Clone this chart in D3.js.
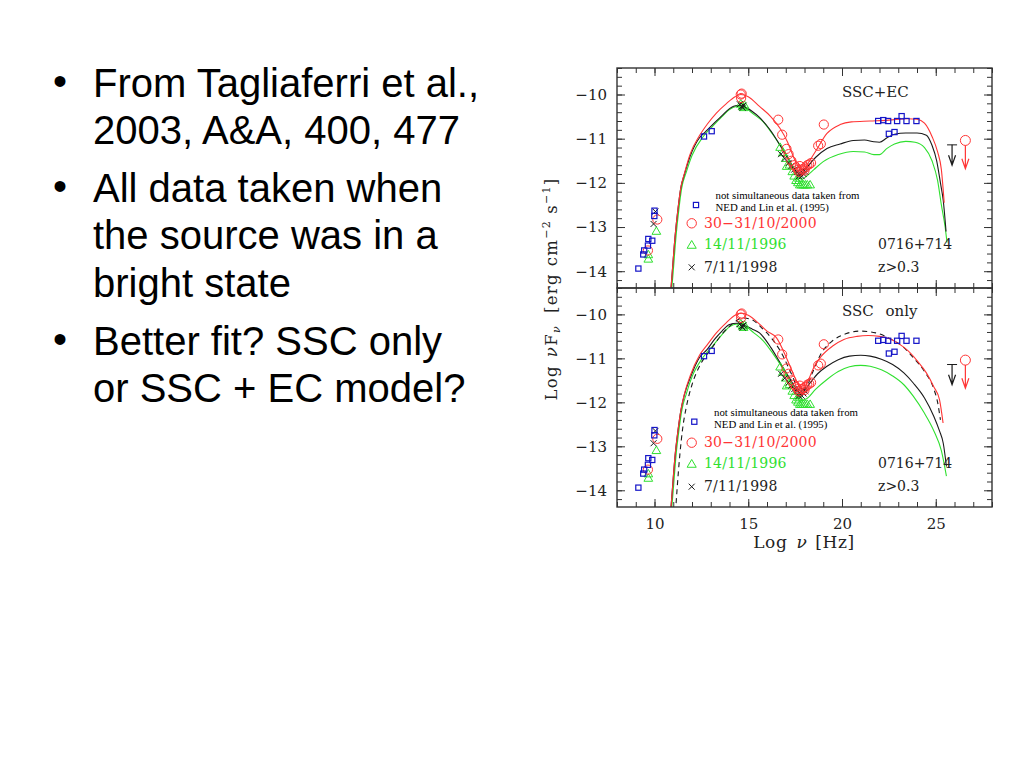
<!DOCTYPE html>
<html><head><meta charset="utf-8">
<script src="https://cdn.jsdelivr.net/npm/d3@7"></script>
<style>body{margin:0;background:#fff;} svg{display:block}</style>
</head><body>
<svg id="c" width="1024" height="768"></svg>
<script>
// ---------- slide text ----------
const bullets = [
  ["From Tagliaferri et al.,", "2003, A&A, 400, 477"],
  ["All data taken when", "the source was in a", "bright state"],
  ["Better fit? SSC only", "or SSC + EC model?"]
];

// ---------- axis ticks ----------
const xMajorTicks = [10, 15, 20, 25];
const yMajorTicks = [-14, -13, -12, -11, -10];

// ---------- data points (log nu, log nuFnu) ----------
const nedX = [9.14, 9.4, 9.45, 9.65, 9.67, 9.88, 9.99, 10.0, 12.64, 13.05, 21.93, 22.2, 22.46, 22.94, 23.18, 23.44, 23.97, 22.5, 22.8];
const nedY = [-13.94, -13.62, -13.53, -13.42, -13.27, -13.31, -12.75, -12.63, -10.95, -10.83, -10.6, -10.58, -10.6, -10.6, -10.49, -10.6, -10.6, -10.89, -10.85];

const obs2000X = [9.65, 10.15, 14.6, 14.62, 14.65, 16.6, 16.81, 17.04, 17.15, 17.3, 17.45, 17.55, 17.65, 17.75, 17.85, 17.95, 18.05, 18.15, 18.25, 18.35, 17.7, 18.0, 18.73, 18.87, 19.03];
const obs2000Y = [-13.53, -12.83, -10.0, -10.08, -9.98, -10.57, -10.91, -11.23, -11.35, -11.5, -11.6, -11.65, -11.7, -11.62, -11.7, -11.68, -11.65, -11.6, -11.58, -11.55, -11.75, -11.72, -11.16, -11.12, -10.68];

const obs1996X = [9.67, 9.67, 10.1, 14.6, 14.7, 14.8, 14.75, 16.7, 16.85, 17.0, 17.05, 17.2, 17.35, 17.45, 17.55, 17.65, 17.75, 17.85, 17.95, 18.05, 18.15, 18.3, 17.7];
const obs1996Y = [-13.63, -13.73, -13.1, -10.22, -10.27, -10.25, -10.3, -11.2, -11.32, -11.45, -11.63, -11.6, -11.75, -11.85, -11.95, -12.0, -12.05, -12.05, -12.05, -12.05, -12.05, -12.05, -11.9];

const obs1998X = [9.95, 10.05, 14.55, 14.65, 14.7, 14.75, 16.75, 16.95, 17.15, 17.3, 17.45, 17.6, 17.75, 17.85, 17.95, 18.05, 17.7, 17.9];
const obs1998Y = [-12.93, -12.65, -10.22, -10.27, -10.3, -10.25, -11.35, -11.45, -11.55, -11.62, -11.7, -11.75, -11.78, -11.85, -11.8, -11.75, -11.85, -11.72];

// upper limits [x, yTop, yTip]
const limit1998 = [25.87, -11.14, -11.6];
const limit2000 = [26.58, -11.04, -11.68];

// ---------- model curves ----------
const sscEcBlack = [[10.86,-14.5],[10.95,-14.0],[11.1,-13.2],[11.25,-12.6],[11.4,-12.12],[11.6,-11.8],[11.9,-11.4],[12.4,-10.98],[12.7,-10.85],[13.1,-10.68],[13.6,-10.48],[14.0,-10.32],[14.4,-10.25],[14.8,-10.28],[15.2,-10.38],[15.6,-10.52],[16.2,-10.82],[16.7,-11.15],[17.2,-11.5],[17.6,-11.76],[17.8,-11.82],[18.0,-11.72],[18.6,-11.42],[19.2,-11.22],[19.9,-11.12],[20.6,-11.04],[21.2,-11.03],[21.7,-11.07],[22.0,-11.08],[22.4,-10.98],[22.8,-10.9],[23.4,-10.87],[24.0,-10.87],[24.5,-10.92],[24.8,-11.15],[25.05,-11.5],[25.25,-12.0],[25.4,-12.4],[25.55,-13.1]];
const sscEcRed = [[10.86,-14.5],[10.95,-14.0],[11.1,-13.2],[11.25,-12.6],[11.4,-12.12],[11.6,-11.78],[11.9,-11.35],[12.4,-10.93],[12.8,-10.68],[13.3,-10.42],[13.85,-10.2],[14.3,-10.05],[14.6,-10.0],[15.0,-10.05],[15.6,-10.27],[16.2,-10.5],[16.7,-10.77],[17.1,-11.08],[17.4,-11.4],[17.7,-11.65],[17.95,-11.72],[18.2,-11.55],[18.6,-11.28],[19.2,-10.88],[19.9,-10.68],[20.5,-10.62],[21.5,-10.6],[22.5,-10.58],[23.5,-10.55],[24.0,-10.56],[24.4,-10.65],[24.8,-10.95],[25.1,-11.3],[25.3,-11.7],[25.45,-12.45]];
const sscEcGreen = [[10.9,-14.5],[11.0,-14.0],[11.15,-13.2],[11.3,-12.6],[11.45,-12.12],[11.7,-11.75],[12.0,-11.38],[12.6,-10.95],[13.1,-10.72],[13.6,-10.5],[14.0,-10.34],[14.4,-10.27],[14.8,-10.3],[15.3,-10.45],[15.8,-10.62],[16.3,-10.9],[16.8,-11.22],[17.3,-11.58],[17.65,-11.85],[17.85,-11.92],[18.1,-11.85],[18.5,-11.7],[19.0,-11.52],[19.8,-11.36],[20.6,-11.29],[21.2,-11.3],[21.7,-11.36],[22.0,-11.36],[22.4,-11.22],[22.8,-11.12],[23.4,-11.06],[23.9,-11.08],[24.4,-11.2],[24.8,-11.5],[25.1,-11.95],[25.3,-12.5],[25.5,-13.0],[25.6,-13.35]];

const sscBlack = [[10.86,-14.5],[10.95,-14.0],[11.1,-13.2],[11.25,-12.65],[11.4,-12.2],[11.6,-11.82],[11.9,-11.45],[12.4,-10.98],[12.8,-10.8],[13.2,-10.57],[13.6,-10.38],[14.0,-10.23],[14.4,-10.2],[14.8,-10.25],[15.2,-10.33],[15.6,-10.42],[16.2,-10.75],[16.7,-11.1],[17.2,-11.45],[17.6,-11.72],[17.8,-11.8],[18.0,-11.72],[18.3,-11.56],[18.7,-11.35],[19.2,-11.18],[19.8,-11.03],[20.4,-10.95],[21.0,-10.93],[21.5,-10.95],[22.1,-11.02],[22.7,-11.14],[23.3,-11.33],[23.8,-11.56],[24.4,-11.9],[24.9,-12.32],[25.2,-12.65],[25.4,-12.93],[25.57,-13.46]];
const sscRed = [[10.86,-14.5],[10.95,-14.0],[11.1,-13.2],[11.25,-12.65],[11.4,-12.2],[11.6,-11.8],[11.9,-11.4],[12.4,-10.93],[12.8,-10.7],[13.3,-10.42],[13.85,-10.18],[14.3,-10.02],[14.6,-9.97],[15.0,-10.02],[15.6,-10.22],[16.0,-10.38],[16.5,-10.53],[17.0,-10.95],[17.4,-11.35],[17.7,-11.62],[17.93,-11.7],[18.2,-11.5],[18.5,-11.2],[18.9,-10.95],[19.5,-10.72],[20.1,-10.57],[20.8,-10.5],[21.4,-10.48],[22.0,-10.5],[22.5,-10.55],[23.0,-10.66],[23.5,-10.82],[24.0,-11.05],[24.5,-11.33],[24.9,-11.65],[25.2,-11.94],[25.39,-12.47]];
const sscDashed = [[11.12,-14.5],[11.2,-14.0],[11.35,-13.2],[11.5,-12.6],[11.7,-12.1],[12.0,-11.6],[12.5,-11.1],[13.0,-10.8],[13.6,-10.45],[14.2,-10.2],[14.7,-10.08],[15.2,-10.12],[15.7,-10.3],[16.2,-10.52],[16.8,-10.9],[17.3,-11.35],[17.75,-11.72],[18.0,-11.72],[18.4,-11.35],[18.9,-10.88],[19.5,-10.6],[20.2,-10.44],[21.0,-10.38],[21.8,-10.42],[22.6,-10.56],[23.2,-10.72],[23.8,-10.98],[24.4,-11.3],[24.9,-11.7],[25.1,-12.0],[25.25,-12.4]];
const sscGreen = [[10.9,-14.5],[11.0,-14.0],[11.15,-13.2],[11.3,-12.65],[11.45,-12.2],[11.7,-11.8],[12.0,-11.42],[12.6,-10.97],[13.1,-10.72],[13.6,-10.46],[14.0,-10.28],[14.4,-10.22],[14.8,-10.26],[15.3,-10.42],[15.8,-10.6],[16.3,-10.88],[16.8,-11.2],[17.3,-11.58],[17.65,-11.87],[17.9,-11.95],[18.11,-11.92],[18.6,-11.7],[19.2,-11.48],[19.8,-11.3],[20.4,-11.19],[21.0,-11.16],[21.5,-11.18],[22.1,-11.26],[22.7,-11.4],[23.3,-11.6],[23.8,-11.86],[24.4,-12.25],[24.9,-12.65],[25.3,-13.1],[25.57,-13.68]];

// legend texts
const legendNote = ["not simultaneous data taken from", "NED and Lin et al. (1995)"];
const legendDates = ["30\u221231/10/2000", "14/11/1996", "7/11/1998"];
const sourceLabels = ["0716+714", "z>0.3"];
const panelTitles = ["SSC+EC", "SSC only"];

// ---------- drawing ----------
const RED = "#ff3535", GREEN = "#2fe02f", BLUE = "#1515c8", BLACK = "#1a1a1a";
const SERIF = "'DejaVu Serif', serif";
const svg = d3.select("#c");

// bullets
const bg = svg.append("g").attr("font-family", "'Liberation Sans', Arial, sans-serif").attr("font-size", 40).attr("fill", "#000");
let yb = 97;
bullets.forEach(lines => {
  bg.append("text").attr("x", 53).attr("y", yb - 2).text("\u2022");
  lines.forEach((l, j) => bg.append("text").attr("x", 93).attr("y", yb + j * 47.3).text(l));
  yb += lines.length * 47.3 + 10.5;
});

const x = d3.scaleLinear().domain([8, 28]).range([617, 992]);
const xMinor = d3.range(8, 29, 1);
const yMinor = d3.range(-14.2, -9.39, 0.2).map(v => +v.toFixed(1));

function triPath(s) { return `M0,${-s}L${s * 0.95},${s * 0.62}L${-s * 0.95},${s * 0.62}Z`; }

function drawPanel(top, bottom, idx, curves, legendY) {
  const y = d3.scaleLinear().domain([-14.38, -9.4]).range([bottom, top]);
  const g = svg.append("g");
  const clipId = "clip" + idx;
  svg.append("clipPath").attr("id", clipId).append("rect")
    .attr("x", 617).attr("y", top).attr("width", 375).attr("height", bottom - top);

  // axes (ticks inward)
  const axStyle = sel => {
    sel.select(".domain").remove();
    sel.selectAll("line").attr("stroke", "#333").attr("stroke-width", 1);
    sel.selectAll("text").attr("font-family", SERIF).attr("font-size", 15).attr("fill", "#222");
  };
  const fmt = d3.format("d");
  g.append("g").attr("transform", `translate(617,0)`)
    .call(d3.axisLeft(y).tickValues(yMajorTicks).tickSize(-8).tickPadding(10).tickFormat(fmt)).call(axStyle);
  g.append("g").attr("transform", `translate(617,0)`)
    .call(d3.axisLeft(y).tickValues(yMinor).tickSize(-5).tickFormat("")).call(axStyle);
  g.append("g").attr("transform", `translate(992,0)`)
    .call(d3.axisRight(y).tickValues(yMajorTicks).tickSize(-8).tickFormat("")).call(axStyle);
  g.append("g").attr("transform", `translate(992,0)`)
    .call(d3.axisRight(y).tickValues(yMinor).tickSize(-5).tickFormat("")).call(axStyle);
  g.append("g").attr("transform", `translate(0,${top})`)
    .call(d3.axisTop(x).tickValues(xMajorTicks).tickSize(-8).tickFormat("")).call(axStyle);
  g.append("g").attr("transform", `translate(0,${top})`)
    .call(d3.axisTop(x).tickValues(xMinor).tickSize(-5).tickFormat("")).call(axStyle);
  const bx = g.append("g").attr("transform", `translate(0,${bottom})`);
  bx.call(d3.axisBottom(x).tickValues(xMajorTicks).tickSize(-8).tickPadding(11).tickFormat(fmt)).call(axStyle);
  if (idx === 0) bx.selectAll("text").remove();
  g.append("g").attr("transform", `translate(0,${bottom})`)
    .call(d3.axisBottom(x).tickValues(xMinor).tickSize(-5).tickFormat("")).call(axStyle);

  // curves
  const line = d3.line().x(d => x(d[0])).y(d => y(d[1])).curve(d3.curveMonotoneX);
  const cg = g.append("g").attr("clip-path", `url(#${clipId})`);
  curves.forEach(c => {
    cg.append("path").attr("d", line(c.data)).attr("fill", "none")
      .attr("stroke", c.color).attr("stroke-width", 1.1)
      .attr("stroke-dasharray", c.dash || null);
  });

  // points
  const pg = g.append("g").attr("clip-path", `url(#${clipId})`).attr("fill", "none").attr("stroke-width", 1);
  obs1996X.forEach((v, i) => pg.append("path").attr("d", triPath(4.6))
    .attr("transform", `translate(${x(v)},${y(obs1996Y[i])})`).attr("stroke", GREEN));
  obs1998X.forEach((v, i) => pg.append("path").attr("d", "M-3,-3L3,3M-3,3L3,-3")
    .attr("transform", `translate(${x(v)},${y(obs1998Y[i])})`).attr("stroke", BLACK));
  obs2000X.forEach((v, i) => pg.append("circle").attr("cx", x(v)).attr("cy", y(obs2000Y[i])).attr("r", 4.6).attr("stroke", RED));
  nedX.forEach((v, i) => pg.append("rect").attr("x", x(v) - 2.6).attr("y", y(nedY[i]) - 2.6)
    .attr("width", 5.2).attr("height", 5.2).attr("stroke", BLUE).attr("stroke-width", 1.2));

  // upper limits
  const arrow = (xx, y1, y2, col) => {
    pg.append("path").attr("d", `M${xx},${y1}L${xx},${y2}M${xx - 3.5},${y2 - 10}L${xx},${y2}L${xx + 3.5},${y2 - 10}`)
      .attr("stroke", col).attr("stroke-width", 1.2);
  };
  const lx = x(limit1998[0]);
  pg.append("path").attr("d", `M${lx - 5},${y(limit1998[1])}L${lx + 5},${y(limit1998[1])}`).attr("stroke", BLACK);
  arrow(lx, y(limit1998[1]), y(limit1998[2]), BLACK);
  const rx = x(limit2000[0]);
  pg.append("circle").attr("cx", rx).attr("cy", y(limit2000[1])).attr("r", 5).attr("stroke", RED);
  arrow(rx, y(limit2000[1]) + 5, y(limit2000[2]), RED);

  // title
  g.append("text").attr("x", 842).attr("y", top + (idx === 0 ? 28.5 : 28)).attr("font-family", SERIF)
    .attr("font-size", 15).attr("fill", "#222").attr("word-spacing", idx === 0 ? 0 : 7).text(panelTitles[idx]);

  // legend
  const L = legendY;
  g.append("rect").attr("x", L.sq[0] - 2.6).attr("y", L.sq[1] - 2.6).attr("width", 5.2).attr("height", 5.2)
    .attr("fill", "none").attr("stroke", BLUE).attr("stroke-width", 1.2);
  legendNote.forEach((t, i) => g.append("text").attr("x", L.noteX).attr("y", L.note[i])
    .attr("font-family", "'Liberation Serif', 'Times New Roman', serif").attr("font-size", 10.8).attr("fill", "#000").text(t));
  g.append("circle").attr("cx", 691.7).attr("cy", L.sym[0]).attr("r", 4.7).attr("fill", "none").attr("stroke", RED);
  g.append("path").attr("d", triPath(4.8)).attr("transform", `translate(691.7,${L.sym[1] + 1})`).attr("fill", "none").attr("stroke", GREEN);
  g.append("path").attr("d", "M-3,-3L3,3M-3,3L3,-3").attr("transform", `translate(691.7,${L.sym[2]})`).attr("fill", "none").attr("stroke", BLACK);
  [RED, GREEN, "#222"].forEach((col, i) => g.append("text").attr("x", 704).attr("y", L.base[i])
    .attr("font-family", SERIF).attr("font-size", 14).attr("letter-spacing", 0.2).attr("fill", col).text(legendDates[i]));
  sourceLabels.forEach((t, i) => g.append("text").attr("x", 878).attr("y", L.base[i + 1])
    .attr("font-family", SERIF).attr("font-size", 14).attr("fill", "#222").text(t));

  // frame
  g.append("rect").attr("x", 617).attr("y", top).attr("width", 375).attr("height", bottom - top)
    .attr("fill", "none").attr("stroke", "#333").attr("stroke-width", 1.4);
}

drawPanel(68, 288, 0, [
  { data: sscEcGreen, color: GREEN },
  { data: sscEcBlack, color: BLACK },
  { data: sscEcRed, color: RED }
], { sq: [696, 205], noteX: 715.5, note: [199.3, 210.5], sym: [223.3, 244.3, 267.3], base: [228, 249, 271.5] });

drawPanel(288, 507, 1, [
  { data: sscGreen, color: GREEN },
  { data: sscBlack, color: BLACK },
  { data: sscDashed, color: BLACK, dash: "5,4" },
  { data: sscRed, color: RED }
], { sq: [694.3, 421.7], noteX: 714, note: [416, 427.7], sym: [442.7, 463.3, 486.7], base: [447, 468, 491] });

// axis titles
svg.append("text").attr("x", 804).attr("y", 548).attr("text-anchor", "middle")
  .attr("font-family", SERIF).attr("font-size", 17).attr("fill", "#222").attr("letter-spacing", 0.6)
  .call(t => {
    t.append("tspan").text("Log ");
    t.append("tspan").attr("font-style", "italic").attr("dx", 3).text("\u03BD");
    t.append("tspan").attr("dx", 8).text("[Hz]");
  });

svg.append("text").attr("transform", "translate(557,289) rotate(-90)").attr("text-anchor", "middle")
  .attr("font-family", SERIF).attr("font-size", 16.5).attr("fill", "#222").attr("letter-spacing", 1.3)
  .call(t => {
    t.append("tspan").text("Log");
    t.append("tspan").attr("font-style", "italic").attr("dx", 8).text("\u03BD");
    t.append("tspan").text("F");
    t.append("tspan").attr("font-size", 11).attr("font-style", "italic").attr("dy", 3).text("\u03BD");
    t.append("tspan").attr("dy", -3).attr("dx", 12).text("[erg");
    t.append("tspan").attr("dx", 7).text("cm");
    t.append("tspan").attr("font-size", 11).attr("dy", -7).text("\u22122");
    t.append("tspan").attr("dy", 7).attr("dx", 6).text("s");
    t.append("tspan").attr("font-size", 11).attr("dy", -7).text("\u22121");
    t.append("tspan").attr("dy", 7).text("]");
  });
</script>
</body></html>
